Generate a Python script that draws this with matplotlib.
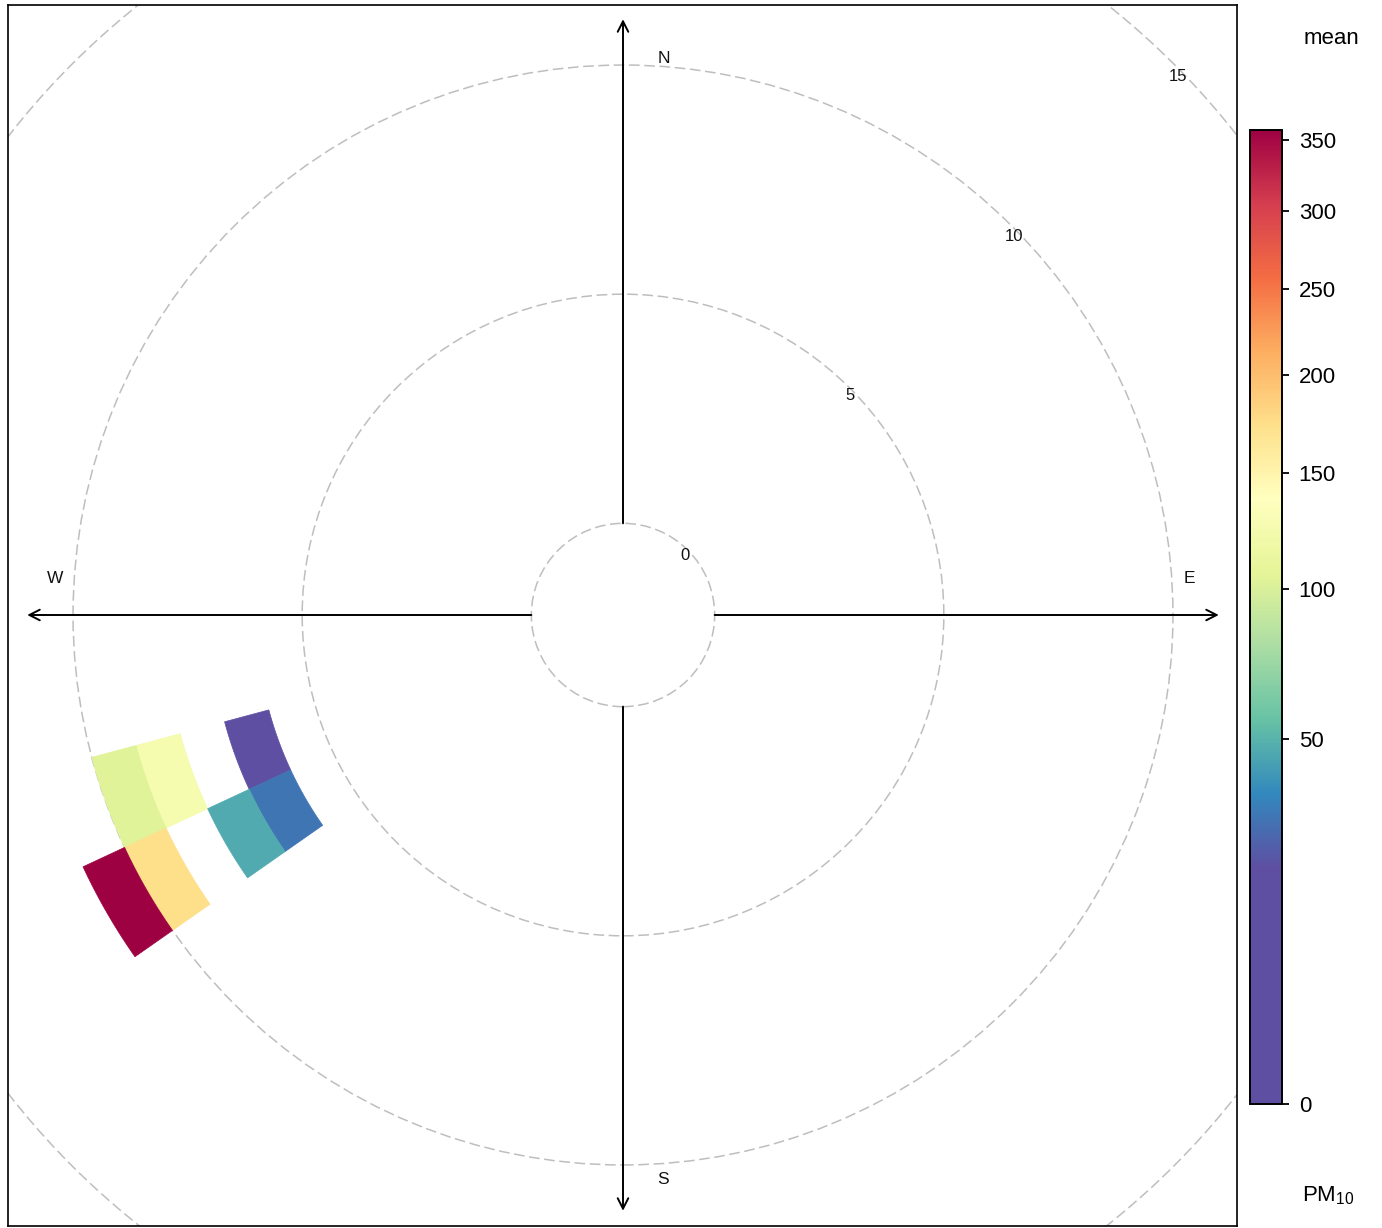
import numpy as np
import matplotlib
matplotlib.use("Agg")
import matplotlib.pyplot as plt
from matplotlib.colors import LinearSegmentedColormap, PowerNorm
from matplotlib.patches import Polygon, Circle
from matplotlib.cm import ScalarMappable

plt.rcParams['font.family'] = ['Liberation Sans', 'DejaVu Sans']
plt.rcParams['mathtext.fontset'] = 'custom'
plt.rcParams['mathtext.rm'] = 'Liberation Sans'

# ---- data: mean PM10 by wind-direction sector (deg) and wind-speed bin ----
wd_sector = [250, 250, 250, 240, 240, 240, 240]
ws_lower = [6, 8, 9, 6, 7, 9, 10]
pm10_mean = [21, 125, 103, 31, 47, 174, 357]

ws_interval = 1
wd_width = 10
ws_offset = 2.0            # size of the hole in the middle (ws units)
ring_ws = [0, 5, 10, 15]
ring_labels = ["0", "5", "10", "15"]
arrow_ws = 11
cbar_ticks = [0, 50, 100, 150, 200, 250, 300, 350]
spectral_r = ['#5E4FA2', '#3288BD', '#66C2A5', '#ABDDA4', '#E6F598', '#FFFFBF',
              '#FEE08B', '#FDAE61', '#F46D43', '#D53E4F', '#9E0142']

vmin_data = min(pm10_mean)
vmax_data = max(pm10_mean)
s0 = np.sqrt(vmin_data / vmax_data)
stops = [(0.0, spectral_r[0])] + [(s0 + i * (1 - s0) / (len(spectral_r) - 1), c)
                                  for i, c in enumerate(spectral_r)]
cmap = LinearSegmentedColormap.from_list("openair", stops, N=512)
norm = PowerNorm(gamma=0.5, vmin=0, vmax=vmax_data)

W, H = 1382, 1228
fig = plt.figure(figsize=(W / 100, H / 100), dpi=100)
ax = fig.add_axes([8 / W, 2 / H, 1229 / W, 1221 / H])
pxu = 45.83
ax.set_xlim((8 - 623) / pxu, (1237 - 623) / pxu)
ax.set_ylim((615 - 1226) / pxu, (615 - 5) / pxu)
ax.set_xticks([]); ax.set_yticks([])
for sp in ax.spines.values():
    sp.set_linewidth(1.2)
    sp.set_color('black')


def polar_xy(bearing_deg, r):
    t = np.deg2rad(bearing_deg)
    return r * np.sin(t), r * np.cos(t)


# tiles
for wd, lo, val in zip(wd_sector, ws_lower, pm10_mean):
    th = np.linspace(wd - wd_width / 2, wd + wd_width / 2, 30)
    r1 = lo + ws_offset
    r2 = lo + ws_interval + ws_offset
    x1, y1 = polar_xy(th, r1)
    x2, y2 = polar_xy(th[::-1], r2)
    pts = np.column_stack([np.concatenate([x1, x2]), np.concatenate([y1, y2])])
    col = cmap(norm(val))
    ax.add_patch(Polygon(pts, closed=True, facecolor=col, edgecolor=col, lw=0.5, zorder=2))

# dashed rings
for ws, lab in zip(ring_ws, ring_labels):
    r = ws + ws_offset
    ax.add_patch(Circle((0, 0), r, fill=False, ec='#BEBEBE', lw=1.1,
                        ls=(0, (7, 3)), zorder=1))
    lx, ly = polar_xy(45.8, r - 0.1)
    ax.text(lx, ly - 0.03, lab, ha='center', va='center', fontsize=12, color='#111111', zorder=4)

# axis arrows
r_end = arrow_ws + ws_offset
for b in [0, 90, 180, 270]:
    xs, ys = polar_xy(b, ws_offset)
    xe, ye = polar_xy(b, r_end)
    ax.annotate('', xy=(xe, ye), xytext=(xs, ys),
                arrowprops=dict(arrowstyle='->,head_length=0.75,head_width=0.38',
                                lw=1.4, color='black', shrinkA=0, shrinkB=0),
                zorder=3)

# compass labels
lab_r = 12.3
lab_off = 0.8
kw = dict(ha='center', va='center', fontsize=12.5, color='#111111')
ax.text(0.9, 12.15, 'N', **kw)
ax.text(lab_r + 0.05, lab_off, 'E', **kw)
ax.text(0.88, -lab_r - 0.02, 'S', **kw)
ax.text(-lab_r - 0.1, lab_off, 'W', **kw)

# colour key
cax = fig.add_axes([1250 / W, (H - 1104) / H, 32 / W, 974 / H])
sm = ScalarMappable(norm=norm, cmap=cmap)
cb = fig.colorbar(sm, cax=cax, ticks=cbar_ticks)
cb.outline.set_linewidth(1.4)
cb.outline.set_edgecolor('black')
cax.tick_params(direction='out', length=5, width=1.3, pad=7, labelsize=16)
cax.set_yticklabels([str(t) for t in cbar_ticks])

fig.text(1331 / W, 1 - 38 / H, 'mean', ha='center', va='center', fontsize=16)
fig.text(1328 / W, 1 - 1196 / H, r'PM$_{\mathrm{10}}$', ha='center', va='center', fontsize=16)

fig.savefig('out.png', dpi=100)
